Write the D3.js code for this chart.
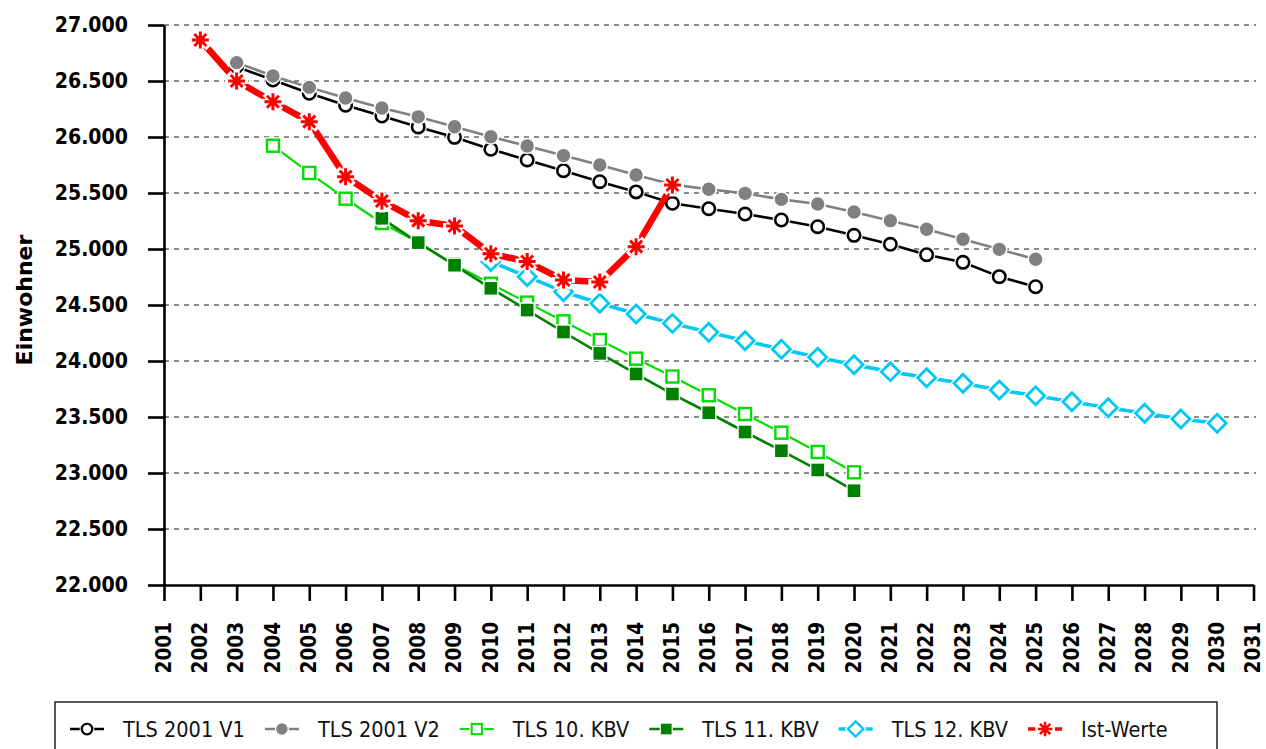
<!DOCTYPE html>
<html><head><meta charset="utf-8">
<script src="https://cdn.jsdelivr.net/npm/d3@7"></script>
<style>body{margin:0;background:#fff}svg{display:block}</style>
</head><body>
<svg id="c" width="1266" height="749"></svg>
<script>
// ---- data ----
const tickYears = [2001,2002,2003,2004,2005,2006,2007,2008,2009,2010,2011,2012,2013,2014,2015,2016,2017,2018,2019,2020,2021,2022,2023,2024,2025,2026,2027,2028,2029,2030,2031];
const yTickValues = [22000,22500,23000,23500,24000,24500,25000,25500,26000,26500,27000];

const yearsV1 = [2003,2004,2005,2006,2007,2008,2009,2010,2011,2012,2013,2014,2015,2016,2017,2018,2019,2020,2021,2022,2023,2024,2025];
const valuesV1 = [26628,26509,26390,26283,26187,26090,25997,25890,25795,25699,25601,25510,25408,25360,25312,25259,25199,25122,25042,24949,24881,24753,24663];

const yearsV2 = [2003,2004,2005,2006,2007,2008,2009,2010,2011,2012,2013,2014,2015,2016,2017,2018,2019,2020,2021,2022,2023,2024,2025];
const valuesV2 = [26664,26545,26443,26348,26259,26180,26092,26003,25920,25834,25750,25661,25575,25533,25497,25443,25402,25330,25253,25176,25087,24997,24908];

const yearsK10 = [2004,2005,2006,2007,2008,2009,2010,2011,2012,2013,2014,2015,2016,2017,2018,2019,2020];
const valuesK10 = [25922,25679,25449,25232,25060,24860,24690,24521,24354,24187,24021,23861,23694,23527,23360,23188,23006];

const yearsK11 = [2007,2008,2009,2010,2011,2012,2013,2014,2015,2016,2017,2018,2019,2020];
const valuesK11 = [25274,25057,24855,24649,24455,24259,24068,23884,23705,23538,23366,23199,23027,22842];

const yearsK12 = [2010,2011,2012,2013,2014,2015,2016,2017,2018,2019,2020,2021,2022,2023,2024,2025,2026,2027,2028,2029,2030];
const valuesK12 = [24888,24753,24619,24515,24420,24336,24256,24181,24104,24033,23967,23905,23851,23801,23741,23690,23637,23583,23533,23482,23444];

const yearsIst = [2002,2003,2004,2005,2006,2007,2008,2009,2010,2011,2012,2013,2014,2015];
const valuesIst = [26866,26500,26315,26137,25646,25429,25253,25205,24958,24888,24723,24705,25021,25571];

const seriesNames = ["TLS 2001 V1","TLS 2001 V2","TLS 10. KBV","TLS 11. KBV","TLS 12. KBV","Ist-Werte"];
const yTitle = "Einwohner";

// ---- styles ----
const styles = [
  {color:"#000000", width:2.6, marker:"circleOpen"},
  {color:"#808080", width:2.6, marker:"circleFilled"},
  {color:"#00dd00", width:2.2, marker:"squareOpen"},
  {color:"#008000", width:2.6, marker:"squareFilled"},
  {color:"#00c8f5", width:3.6, marker:"diamondOpen"},
  {color:"#ff0000", width:6.5, marker:"star"}
];
const series = [
  [yearsV1, valuesV1],[yearsV2, valuesV2],[yearsK10, valuesK10],
  [yearsK11, valuesK11],[yearsK12, valuesK12],[yearsIst, valuesIst]
].map((s,i)=>({name:seriesNames[i], style:styles[i], pts:s[0].map((yr,j)=>({year:yr, value:s[1][j]}))}));

const svg = d3.select("#c");
const x = d3.scaleLinear().domain([2001,2031]).range([164,1253.5]);
const y = d3.scaleLinear().domain([22000,27000]).range([585,25]);
const fmt = v => d3.format(",")(v).replace(/,/g,".");
const boldFont = "'DejaVu Sans', Verdana, sans-serif";

// grid
svg.append("g").selectAll("line").data(yTickValues.filter(v=>v>22000)).join("line")
  .attr("x1", x(2001)).attr("x2", 1256)
  .attr("y1", d=>y(d)).attr("y2", d=>y(d))
  .attr("stroke","#666").attr("stroke-width",1.4).attr("stroke-dasharray","5,5");

// axes
const gy = svg.append("g").attr("transform",`translate(${x(2001)},0)`)
  .call(d3.axisLeft(y).tickValues(yTickValues).tickSize(16).tickSizeOuter(0).tickPadding(20).tickFormat(fmt));
gy.select(".domain").attr("stroke","#000").attr("stroke-width",2.6);
gy.selectAll(".tick line").attr("stroke","#000").attr("stroke-width",2.6);
gy.selectAll(".tick text").attr("font-family",boldFont).attr("font-weight","bold").attr("font-size","19px").attr("fill","#000")
  .attr("transform","scale(1,1.1)");

const gx = svg.append("g").attr("transform",`translate(0,${y(22000)})`)
  .call(d3.axisBottom(x).tickValues(tickYears).tickSize(16).tickSizeOuter(0).tickFormat(d3.format("d")));
gx.select(".domain").attr("stroke","#000").attr("stroke-width",2.6);
gx.selectAll(".tick line").attr("stroke","#000").attr("stroke-width",2.6);
gx.selectAll(".tick text").attr("font-family",boldFont).attr("font-weight","bold").attr("font-size","18.5px").attr("fill","#000")
  .attr("transform","rotate(-90) scale(1,1.12)").attr("x",-37).attr("y",0).attr("dy","0.3em").attr("text-anchor","end");

svg.append("text").attr("transform","translate(32,300) rotate(-90)")
  .attr("text-anchor","middle").attr("font-family",boldFont).attr("font-weight","bold").attr("font-size","22px")
  .attr("fill","#000").text(yTitle);

// markers
function drawMarker(g, type, color, cx, cy, scale){
  const k = scale||1;
  const t = g.append("g").attr("transform",`translate(${cx},${cy}) scale(${k})`);
  if(type==="circleOpen"){
    t.append("circle").attr("r",6.2).attr("fill","#fff").attr("stroke","#fff").attr("stroke-width",5);
    t.append("circle").attr("r",6.2).attr("fill","#fff").attr("stroke",color).attr("stroke-width",2.6);
  } else if(type==="circleFilled"){
    t.append("circle").attr("r",7.5).attr("fill",color).attr("stroke","#fff").attr("stroke-width",1.6);
  } else if(type==="squareOpen"){
    t.append("rect").attr("x",-6).attr("y",-6).attr("width",12).attr("height",12).attr("fill","#fff").attr("stroke","#fff").attr("stroke-width",5);
    t.append("rect").attr("x",-6).attr("y",-6).attr("width",12).attr("height",12).attr("fill","#fff").attr("stroke",color).attr("stroke-width",2.4);
  } else if(type==="squareFilled"){
    t.append("rect").attr("x",-7).attr("y",-7).attr("width",14).attr("height",14).attr("fill",color).attr("stroke","#fff").attr("stroke-width",1.4);
  } else if(type==="diamondOpen"){
    const p = "M0,-9L9,0L0,9L-9,0Z";
    t.append("path").attr("d",p).attr("fill","#fff").attr("stroke","#fff").attr("stroke-width",5.5);
    t.append("path").attr("d",p).attr("fill","#fff").attr("stroke",color).attr("stroke-width",2.8);
  } else if(type==="star"){
    const s=8.5, d=6;
    const p = `M0,${-s}L0,${s}M${-d},${-d}L${d},${d}M${-d},${d}L${d},${-d}M${-s},0L${s},0`;
    t.append("path").attr("d",p).attr("stroke","#fff").attr("stroke-width",6).attr("stroke-linecap","square");
    t.append("path").attr("d",p).attr("stroke",color).attr("stroke-width",3);
  }
}

const line = d3.line().x(d=>x(d.year)).y(d=>y(d.value));
series.forEach(s=>{
  const g = svg.append("g");
  g.append("path").datum(s.pts).attr("d",line).attr("fill","none")
    .attr("stroke",s.style.color).attr("stroke-width",s.style.width).attr("stroke-linejoin","round");
  s.pts.forEach(p=>drawMarker(g, s.style.marker, s.style.color, x(p.year), y(p.value)));
});

// legend
const lg = svg.append("g");
lg.append("rect").attr("x",55).attr("y",702).attr("width",1162).attr("height",70)
  .attr("fill","#fff").attr("stroke","#000").attr("stroke-width",1.3);
let tx = 123;
series.forEach(s=>{
  const cx = tx - 36, cy = 729;
  lg.append("line").attr("x1",cx-17).attr("x2",cx+17).attr("y1",cy).attr("y2",cy)
    .attr("stroke",s.style.color).attr("stroke-width",Math.min(s.style.width,3.5));
  drawMarker(lg, s.style.marker, s.style.color, cx, cy, 0.85);
  const t = lg.append("text").attr("x",tx).attr("y",737)
    .attr("font-family","'DejaVu Sans Condensed','DejaVu Sans',sans-serif").attr("font-stretch","condensed")
    .attr("font-size","21.5px").attr("fill","#111").text(s.name);
  tx += t.node().getComputedTextLength() + 73;
});
</script>
</body></html>
